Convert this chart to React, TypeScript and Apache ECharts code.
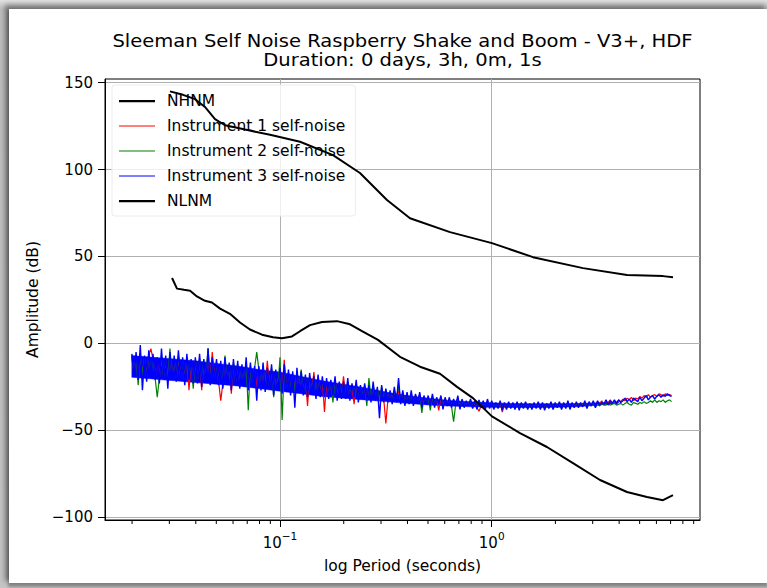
import React, { useEffect, useRef } from "react";
import * as echarts from "echarts";

const TITLE_LINE_1 = "Sleeman Self Noise Raspberry Shake and Boom - V3+, HDF";
const TITLE_LINE_2 = "Duration: 0 days, 3h, 0m, 1s";
const X_NAME = "log Period (seconds)";
const Y_NAME = "Amplitude (dB)";

const yTicks = [-100, -50, 0, 50, 100, 150];
const xMajorTicks = [0.1, 1];
const xMinorTicks = [
  0.02, 0.03, 0.04, 0.05, 0.06, 0.07, 0.08, 0.09,
  0.2, 0.3, 0.4, 0.5, 0.6, 0.7, 0.8, 0.9,
  2, 3, 4, 5, 6, 7, 8, 9,
];

const seriesNames = [
  "NHNM",
  "Instrument 1 self-noise",
  "Instrument 2 self-noise",
  "Instrument 3 self-noise",
  "NLNM",
];

const nhnmPeriods = [0.0302, 0.0348, 0.0397, 0.0442, 0.0493, 0.055, 0.0684, 0.0897, 0.1243, 0.178, 0.2386, 0.3201, 0.4112, 0.6353, 1.003, 1.567, 2.7, 4.36, 6.45, 7.19];
const nhnmDb = [145, 143, 140.5, 136, 129, 125.5, 123, 120, 116, 108.3, 98, 82.5, 72, 64, 57.7, 49.6, 43.3, 39.3, 38.7, 38.1];

const nlnmPeriods = [0.0309, 0.0326, 0.0352, 0.0376, 0.0405, 0.0442, 0.0477, 0.0521, 0.058, 0.0647, 0.0721, 0.0822, 0.0927, 0.1022, 0.1139, 0.1243, 0.1386, 0.1579, 0.1859, 0.2142, 0.244, 0.2903, 0.3687, 0.4584, 0.5699, 0.6857, 0.8159, 1.003, 1.36, 1.824, 2.421, 3.249, 4.356, 5.415, 6.446, 7.186];
const nlnmDb = [37.6, 31.5, 30.8, 30.3, 27, 24.5, 23.5, 20, 17, 12, 8, 5, 3.5, 3, 4, 7, 10.5, 12.3, 12.8, 11, 7, 2, -7.7, -13.4, -17.5, -25, -31.5, -42, -51.6, -59.6, -68.9, -78.6, -85.5, -88.4, -90.2, -87.3];

// log10 of period (s) for the self-noise PSD points
const noiseLogPeriods = [
  -1.70, -1.69, -1.68, -1.67, -1.66, -1.65, -1.64, -1.63, -1.62, -1.61,
  -1.60, -1.59, -1.58, -1.57, -1.56, -1.55, -1.54, -1.53, -1.52, -1.51,
  -1.50, -1.49, -1.48, -1.47, -1.46, -1.45, -1.44, -1.43, -1.42, -1.41,
  -1.40, -1.39, -1.38, -1.37, -1.36, -1.35, -1.34, -1.33, -1.32, -1.31,
  -1.30, -1.29, -1.28, -1.27, -1.26, -1.25, -1.24, -1.23, -1.22, -1.21,
  -1.20, -1.19, -1.18, -1.17, -1.16, -1.15, -1.14, -1.13, -1.12, -1.11,
  -1.10, -1.09, -1.08, -1.07, -1.06, -1.05, -1.04, -1.03, -1.02, -1.01,
  -1.00, -0.99, -0.98, -0.97, -0.96, -0.95, -0.94, -0.93, -0.92, -0.91,
  -0.90, -0.89, -0.88, -0.87, -0.86, -0.85, -0.84, -0.83, -0.82, -0.81,
  -0.80, -0.79, -0.78, -0.77, -0.76, -0.75, -0.74, -0.73, -0.72, -0.71,
  -0.70, -0.69, -0.68, -0.67, -0.66, -0.65, -0.64, -0.63, -0.62, -0.61,
  -0.60, -0.59, -0.58, -0.57, -0.56, -0.55, -0.54, -0.53, -0.52, -0.51,
  -0.50, -0.49, -0.48, -0.47, -0.46, -0.45, -0.44, -0.43, -0.42, -0.41,
  -0.40, -0.39, -0.38, -0.37, -0.36, -0.35, -0.34, -0.33, -0.32, -0.31,
  -0.30, -0.29, -0.28, -0.27, -0.26, -0.25, -0.24, -0.23, -0.22, -0.21,
  -0.20, -0.19, -0.18, -0.17, -0.16, -0.15, -0.14, -0.13, -0.12, -0.11,
  -0.10, -0.09, -0.08, -0.07, -0.06, -0.05, -0.04, -0.03, -0.02, -0.01,
  0.00, 0.01, 0.02, 0.03, 0.04, 0.05, 0.06, 0.07, 0.08, 0.09,
  0.10, 0.11, 0.12, 0.13, 0.14, 0.15, 0.16, 0.17, 0.18, 0.19,
  0.20, 0.21, 0.22, 0.23, 0.24, 0.25, 0.26, 0.27, 0.28, 0.29,
  0.30, 0.31, 0.32, 0.33, 0.34, 0.35, 0.36, 0.37, 0.38, 0.39,
  0.40, 0.41, 0.42, 0.43, 0.44, 0.45, 0.46, 0.47, 0.48, 0.49,
  0.50, 0.51, 0.52, 0.53, 0.54, 0.55, 0.56, 0.57, 0.58, 0.59,
  0.60, 0.61, 0.62, 0.63, 0.64, 0.65, 0.66, 0.67, 0.68, 0.69,
  0.70, 0.71, 0.72, 0.73, 0.74, 0.75, 0.76, 0.77, 0.78, 0.79,
  0.80, 0.81, 0.82, 0.83, 0.84, 0.85,
];

const instrument1Db = [
  -8, -17, -8, -19, -7, -18, -9, -19, -7, -3,
  -9, -19, -10, -20, -8, -18, -10, -21, -8, -19,
  -9, -20, -8, -18, -10, -21, -9, -27, -11, -21,
  -10, -21, -9, -27, -11, -20, -8, -21, -5, -19,
  -11, -22, -33, -23, -11, -21, -13, -29, -12, -22,
  -13, -23, -14, -23, -12, -24, -14, -22, -15, -25,
  -15, -25, -14, -25, -10, -24, -15, -27, -17, -25,
  -16, -27, -9.5, -26, -17, -27, -18, -28, -17, -26,
  -19, -28, -20, -36, -19, -27, -16.5, -29, -20, -28,
  -21, -39.5, -22, -30, -23, -28, -21, -30, -23, -30,
  -19, -30, -23, -31, -25, -35, -23, -32, -25, -30,
  -25, -31, -26, -32, -25, -31, -27, -33, -26, -32,
  -46, -32, -28, -33, -27, -32, -27, -33, -29, -34,
  -29, -33.5, -29, -34, -30, -33, -29.5, -35, -31, -34,
  -31, -35, -30.5, -35.5, -32, -38.5, -31, -36, -32, -35,
  -32, -36, -33, -35, -31.5, -36.5, -33, -36, -34, -35,
  -33, -36.5, -34, -37, -39, -36, -34, -37, -33, -36.5,
  -34, -37, -35, -36.5, -34, -39.5, -35, -37, -34.5, -36.5,
  -35, -37, -34.5, -37.5, -35, -36.5, -34.5, -37, -35.5, -37,
  -35, -36.5, -34.5, -37, -35, -37.5, -35.5, -36.5, -34.5, -37,
  -35, -36, -34.5, -37, -35, -36.5, -34, -37, -35, -36,
  -34.5, -36, -35, -35.5, -34, -36.5, -34.5, -35, -34, -36,
  -33.5, -34.5, -33, -35, -33.5, -34, -32.5, -34.5, -33, -34,
  -32.5, -33.5, -32, -33, -31.5, -32.5, -31, -33, -31.5, -32,
  -30.5, -31.5, -30, -31, -29.5, -31, -30, -29.5, -30.5, -29,
  -29.5, -30.5, -29, -30, -29.5, -30,
];

const instrument2Db = [
  -7, -18, -8, -24, -6, -18, -8, -20, -6, -17,
  -9, -20, -31, -20, -7, -19, -9, -21, -3, -19,
  -9, -20, -7, -19, -10, -22, -8, -20, -11, -26,
  -10, -21, -8, -22, -10, -20, -2.7, -21, -10, -20,
  -11, -22, -12, -23, -7, -21, -13, -24, -11, -22,
  -12, -23, -14, -23, -11, -38.5, -13, -22, -14, -5,
  -15, -25, -13, -26, -16, -24, -14, -31, -17, -25,
  -8, -44, -14, -26, -17, -27, -18, -28, -16, -26,
  -15, -28, -20, -29, -19, -27, -20, -30, -19, -29,
  -21, -29, -22, -30, -22, -34, -21, -31, -23, -30,
  -23, -30, -22, -31, -24, -29, -23, -32, -25, -30,
  -24, -36, -20, -32, -24, -31, -26, -33, -25, -32,
  -27, -32, -28, -33, -27, -32, -24, -33, -28, -34,
  -29, -34, -29, -34.5, -30, -33, -29.5, -40, -31, -34,
  -31, -38.5, -30.5, -35.5, -32, -34.5, -31, -36, -32, -35,
  -32, -36, -45, -35, -31.5, -36.5, -33, -36, -33.5, -35,
  -33, -37, -33.5, -37, -33, -36.5, -34, -37, -33, -36.5,
  -34, -37, -34.5, -37, -34, -37.5, -34.5, -37.5, -34, -36.5,
  -34.5, -37.5, -34, -37.5, -34.5, -37, -34, -37.5, -35, -37,
  -34.5, -37, -34, -37.5, -34.5, -37.5, -35, -37, -34, -37.5,
  -34.5, -36.5, -34, -37.5, -34.5, -37, -34, -37.5, -34.5, -36.5,
  -34.5, -36.5, -34.5, -36, -34, -37, -34.5, -36, -34, -36.5,
  -35, -36, -34.5, -35.5, -35.5, -34.5, -35.5, -35, -34.5, -35.5,
  -35, -34.5, -35.5, -34.5, -34, -35, -35.5, -34, -34.5, -35,
  -34, -34.5, -33.5, -34.5, -34, -33, -34, -32.5, -34, -33,
  -33.5, -32.5, -34, -33, -32.5, -33.5,
];

const instrument3Db = [
  -6, -19, -5, -21, -1, -27, -7, -22, -4, -18,
  -6, -21, -8, -23, -3, -20, -7, -26, -5, -21,
  -7, -22, -4, -20, -8, -24, -6, -21, -9, -23,
  -8, -23, -6, -25, -9, -22, -3, -24, -8, -21,
  -9, -24, -10, -26, -8, -23, -11, -27, -9, -24,
  -10, -26, -12, -25, -8, -27, -11, -24, -13, -33,
  -13, -27, -11, -28, -14, -26, -12, -30, -15, -27,
  -14, -29, -12, -28, -15, -30, -16, -37, -14, -28,
  -16, -30, -18, -31, -17, -29, -19, -32, -18, -31,
  -19, -31, -20, -32, -21, -30, -19, -33, -22, -32,
  -22, -32, -20, -33, -23, -31, -21, -34, -24, -32,
  -23, -33, -24, -34, -22, -33, -25, -43, -24, -34,
  -26, -34, -27, -35, -25, -34, -20, -35, -27, -36,
  -28, -35, -27, -36, -29, -34, -28, -37, -30, -35,
  -30, -36, -29, -37, -31, -35, -30, -38, -31, -36,
  -31, -37, -32, -36, -30, -38, -32, -37, -33, -36,
  -32, -37.5, -33, -38, -32.5, -37, -33, -38, -32, -37.5,
  -33, -38, -34, -37.5, -33, -38.5, -34, -38, -33.5, -37.5,
  -34, -38, -33.5, -38.5, -34, -37.5, -33.5, -38, -34.5, -38,
  -34, -37.5, -33.5, -38, -34, -38.5, -34.5, -37.5, -33.5, -38,
  -34, -37, -33.5, -38, -34, -37.5, -33, -38, -34, -37,
  -33.5, -37, -34, -36.5, -33, -37.5, -33.5, -36, -33, -37,
  -33, -35.5, -34, -35, -32.5, -35.5, -33, -34.5, -32.5, -35,
  -32.5, -34, -33, -31.5, -33.5, -32, -34, -31.5, -32.5, -33.5,
  -31, -33, -31.5, -30, -32.5, -31, -30, -32, -30.5, -29.5,
  -31, -29.5, -30.5, -29, -30, -30.5,
];

// solid core of the instrument-3 trace, where the dense PSD points merge
const coreLogPeriods = [-1.70, -1.60, -1.50, -1.40, -1.30, -1.20, -1.10, -1.00, -0.90, -0.80, -0.70, -0.60, -0.50, -0.40, -0.30, -0.20, -0.10, 0.00, 0.10, 0.20, 0.30, 0.40, 0.50, 0.55, 0.60];
const coreUpperDb = [-7, -8, -9, -10, -11.5, -13, -15, -16.5, -19, -21.5, -23.5, -25.5, -28, -30, -31.5, -32.8, -33.6, -34.2, -34.6, -34.7, -34.7, -34.6, -34.2, -34, -33.8];
const coreLowerDb = [-19.5, -20.5, -21.5, -22.5, -23.5, -24.5, -26, -27.5, -29, -30.5, -31.5, -32.5, -33.5, -34.5, -35.4, -36, -36.5, -36.8, -36.9, -36.9, -36.8, -36.4, -35.6, -35, -34.2];

const FONT = "DejaVu Sans";
const THICK_ICON = "path://M0,0M43,16M0,7h36v2.2h-36z";
const THIN_ICON = "path://M0,0M43,16M0,7.5h36v1h-36z";

function pairs(xs: number[], ys: number[]) {
  return xs.map((x, i) => [x, ys[i]]);
}
function noisePairs(ys: number[]) {
  return noiseLogPeriods.map((e, i) => [Math.pow(10, e), ys[i]]);
}
function minusFmt(v: number) {
  return v < 0 ? "\u2212" + Math.abs(v) : String(v);
}

export default function App() {
  const ref = useRef<HTMLDivElement>(null);
  useEffect(() => {
    if (!ref.current) return;
    const chart = echarts.init(ref.current, undefined, { renderer: "svg" });
    const lineSeries = (name: string, data: number[][], color: string, width: number) => ({
      name,
      type: "line",
      data,
      showSymbol: false,
      symbol: "none",
      silent: true,
      z: 3,
      lineStyle: { color, width },
      itemStyle: { color },
      emphasis: { disabled: true },
    });
    const option: any = {
      animation: false,
      backgroundColor: "#ffffff",
      grid: {
        left: 96,
        top: 70,
        right: 67,
        bottom: 63,
        show: true,
        borderColor: "#000000",
        borderWidth: 1,
        backgroundColor: "transparent",
        containLabel: false,
        outerBoundsMode: "none",
      },
      graphic: [
        {
          type: "text",
          x: 393.5,
          y: 32,
          scaleX: 1.15,
          silent: true,
          style: {
            text: TITLE_LINE_1,
            align: "center",
            verticalAlign: "middle",
            fontSize: 17,
            fontFamily: FONT,
            fill: "#000",
          },
        },
        {
          type: "text",
          x: 393.5,
          y: 51,
          scaleX: 1.15,
          silent: true,
          style: {
            text: TITLE_LINE_2,
            align: "center",
            verticalAlign: "middle",
            fontSize: 17,
            fontFamily: FONT,
            fill: "#000",
          },
        },
      ],
      legend: {
        orient: "vertical",
        left: 103,
        top: 76,
        padding: [8, 10, 7, 7],
        itemGap: 9,
        itemWidth: 43,
        itemHeight: 16,
        symbolKeepAspect: false,
        selectedMode: false,
        backgroundColor: "rgba(255,255,255,0.8)",
        borderColor: "#ececec",
        borderWidth: 1,
        borderRadius: 3,
        z: 1,
        itemStyle: { borderWidth: 0 },
        textStyle: { fontSize: 15.5, fontFamily: FONT, color: "#000" },
        data: [
          { name: seriesNames[0], icon: THICK_ICON },
          { name: seriesNames[1], icon: THIN_ICON },
          { name: seriesNames[2], icon: THIN_ICON },
          { name: seriesNames[3], icon: THIN_ICON },
          { name: seriesNames[4], icon: THICK_ICON },
        ],
      },
      xAxis: {
        type: "log",
        logBase: 10,
        min: 0.0149,
        max: 9.64,
        name: X_NAME,
        nameLocation: "middle",
        nameGap: 38,
        nameTextStyle: { fontSize: 15.5, fontFamily: FONT, color: "#000" },
        axisLine: { show: true, onZero: false, lineStyle: { color: "#000", width: 1 } },
        axisTick: { show: true, length: 7, customValues: xMajorTicks, lineStyle: { color: "#000", width: 1 } },
        minorTick: { show: false },
        axisLabel: {
          customValues: xMajorTicks,
          margin: 10,
          formatter: (v: number) => {
            const e = Math.round(Math.log10(v));
            return "{b|10}{s|" + (e < 0 ? "\u2212" + Math.abs(e) : String(e)) + "}";
          },
          rich: {
            b: { fontSize: 15, fontFamily: FONT, color: "#000", lineHeight: 20, verticalAlign: "bottom" },
            s: { fontSize: 10.5, fontFamily: FONT, color: "#000", lineHeight: 12, verticalAlign: "top" },
          },
        },
        splitLine: { show: true, lineStyle: { color: "#b0b0b0", width: 1 } },
      },
      yAxis: {
        type: "value",
        min: -101.6,
        max: 152.1,
        name: Y_NAME,
        nameLocation: "middle",
        nameGap: 51,
        nameRotate: 90,
        nameTextStyle: { fontSize: 15.5, fontFamily: FONT, color: "#000" },
        axisLine: { show: true, onZero: false, lineStyle: { color: "#000", width: 1 } },
        axisTick: { show: true, length: 7, customValues: yTicks, lineStyle: { color: "#000", width: 1 } },
        axisLabel: {
          customValues: yTicks,
          margin: 12,
          fontSize: 15,
          fontFamily: FONT,
          color: "#000",
          formatter: (v: number) => minusFmt(v),
        },
        splitLine: { show: true, lineStyle: { color: "#b0b0b0", width: 1 } },
      },
      series: [
        lineSeries(seriesNames[0], pairs(nhnmPeriods, nhnmDb), "#000000", 2),
        lineSeries(seriesNames[1], noisePairs(instrument1Db), "#ff0000", 1.2),
        lineSeries(seriesNames[2], noisePairs(instrument2Db), "#008000", 1.2),
        lineSeries(seriesNames[3], noisePairs(instrument3Db), "#0000ff", 1.4),
        {
          type: "custom",
          silent: true,
          z: 3,
          data: [[0.1, -20]],
          renderItem: (params: any, api: any) => {
            if (params.dataIndex !== 0) return null;
            const pts: number[][] = [];
            for (let i = 0; i < coreLogPeriods.length; i++) {
              pts.push(api.coord([Math.pow(10, coreLogPeriods[i]), coreUpperDb[i]]));
            }
            for (let i = coreLogPeriods.length - 1; i >= 0; i--) {
              pts.push(api.coord([Math.pow(10, coreLogPeriods[i]), coreLowerDb[i]]));
            }
            return {
              type: "polygon",
              shape: { points: pts },
              style: { fill: "#0000ff", stroke: "#0000ff", lineWidth: 0.5 },
            };
          },
        },
        lineSeries(seriesNames[4], pairs(nlnmPeriods, nlnmDb), "#000000", 2),
        {
          type: "custom",
          silent: true,
          clip: false,
          z: 4,
          data: xMinorTicks.map((p) => [p, 0]),
          renderItem: (params: any, api: any) => {
            const x = api.coord([api.value(0), 0])[0];
            const cs = params.coordSys;
            const yb = cs.y + cs.height;
            return {
              type: "line",
              shape: { x1: x, y1: yb, x2: x, y2: yb + 4 },
              style: { stroke: "#000", lineWidth: 1 },
            };
          },
        },
      ],
    };
    chart.setOption(option);
    return () => chart.dispose();
  }, []);
  return (
    <div
      style={{
        position: "absolute",
        left: 0,
        top: 0,
        width: 767,
        height: 588,
        overflow: "hidden",
        background: "linear-gradient(to bottom, #e2e2e2 0px, #bdbdbd 9px, #c4c4c4 100%)",
      }}
    >
      <div
        ref={ref}
        style={{
          position: "absolute",
          left: 9,
          top: 9,
          width: 758,
          height: 574,
          background: "#ffffff",
          boxShadow: "-3px -3px 5px 1px rgba(0,0,0,0.4), 0px 3px 3px 1px rgba(0,0,0,0.3)",
        }}
      />
    </div>
  );
}
